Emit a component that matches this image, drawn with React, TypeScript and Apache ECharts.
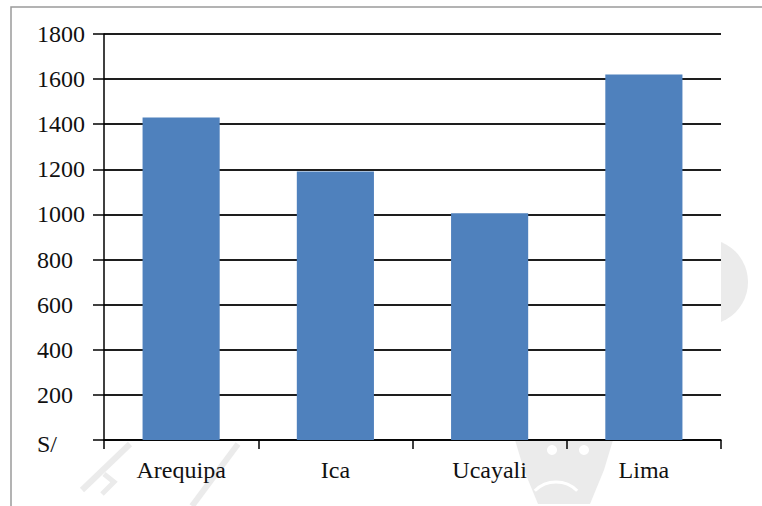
import React, { useEffect, useRef } from "react";
import * as echarts from "echarts";

// Monthly amounts per region (S/)
const regions = ["Arequipa", "Ica", "Ucayali", "Lima"];
const amounts = [1430, 1190, 1005, 1620];
const yMin = 0;
const yMax = 1800;
const yStep = 200;

const SERIF = "Times New Roman, Liberation Serif, DejaVu Serif, serif";
const WATERMARK = "#ebebeb";

export default function App() {
  const ref = useRef<HTMLDivElement>(null);

  useEffect(() => {
    if (!ref.current) return;
    const chart = echarts.init(ref.current, undefined, { renderer: "svg" });

    chart.setOption({
      animation: false,
      backgroundColor: "#ffffff",
      textStyle: { fontFamily: SERIF },
      grid: {
        left: 104,
        right: 41,
        top: 34,
        bottom: 66,
        containLabel: false,
        outerBoundsMode: "none",
        show: true,
        backgroundColor: "#ffffff",
        borderWidth: 0,
        z: 1,
      },
      graphic: [
        // faint emblem behind the chart
        {
          type: "circle",
          z: -5,
          shape: { cx: 705, cy: 282, r: 43 },
          style: { fill: WATERMARK },
          silent: true,
        },
        {
          type: "polygon",
          z: -5,
          shape: {
            points: [
              [515, 440],
              [613, 440],
              [604, 470],
              [590, 504],
              [538, 504],
              [524, 470],
            ],
          },
          style: { fill: WATERMARK },
          silent: true,
        },
        {
          type: "circle",
          z: -4,
          shape: { cx: 552, cy: 450, r: 5 },
          style: { fill: "#ffffff" },
          silent: true,
        },
        {
          type: "circle",
          z: -4,
          shape: { cx: 584, cy: 450, r: 5 },
          style: { fill: "#ffffff" },
          silent: true,
        },
        {
          type: "arc",
          z: -4,
          shape: { cx: 556, cy: 512, r: 30, startAngle: Math.PI * 1.25, endAngle: Math.PI * 1.75 },
          style: { stroke: "#ffffff", lineWidth: 3, fill: "none" },
          silent: true,
        },
        {
          type: "polyline",
          z: -5,
          shape: { points: [[82, 490], [130, 444]] },
          style: { stroke: WATERMARK, lineWidth: 6, fill: "none" },
          silent: true,
        },
        {
          type: "polyline",
          z: -5,
          shape: { points: [[104, 474], [114, 482], [102, 494]] },
          style: { stroke: WATERMARK, lineWidth: 5, fill: "none" },
          silent: true,
        },
        {
          type: "polyline",
          z: -5,
          shape: { points: [[192, 506], [238, 444]] },
          style: { stroke: WATERMARK, lineWidth: 6, fill: "none" },
          silent: true,
        },
        // outer frame
        {
          type: "rect",
          z: 10,
          shape: { x: 11, y: 7, width: 900, height: 700 },
          style: { fill: "none", stroke: "#9a9a9a", lineWidth: 1.5 },
          silent: true,
        },
      ],
      xAxis: {
        type: "category",
        data: regions,
        boundaryGap: true,
        axisLine: { show: true, lineStyle: { color: "#000", width: 1.5 } },
        axisTick: { show: true, alignWithLabel: false, length: 9, lineStyle: { color: "#000", width: 1.5 } },
        axisLabel: {
          color: "#111",
          fontFamily: SERIF,
          fontSize: 24,
          margin: 18,
        },
        z: 3,
      },
      yAxis: {
        type: "value",
        min: yMin,
        max: yMax,
        interval: yStep,
        axisLine: { show: true, lineStyle: { color: "#000", width: 1.5 } },
        axisTick: { show: true, length: 11, lineStyle: { color: "#000", width: 1.5 } },
        splitLine: { show: true, lineStyle: { color: "#1e1e1e", width: 2 } },
        axisLabel: {
          color: "#111",
          fontFamily: SERIF,
          fontSize: 24,
          align: "left",
          margin: 67,
          formatter: (v: number) => (v === 0 ? "{s|S/}" : String(v)),
          rich: {
            s: { fontFamily: SERIF, fontSize: 24, color: "#111", padding: [8, 0, 0, 0] },
          },
        },
        z: 3,
      },
      series: [
        {
          type: "bar",
          data: amounts,
          barCategoryGap: "50%",
          itemStyle: { color: "#4f81bd" },
          z: 4,
        },
      ],
    });

    return () => chart.dispose();
  }, []);

  return (
    <div
      ref={ref}
      style={{ position: "fixed", left: 0, top: 0, width: 762, height: 506 }}
    />
  );
}
